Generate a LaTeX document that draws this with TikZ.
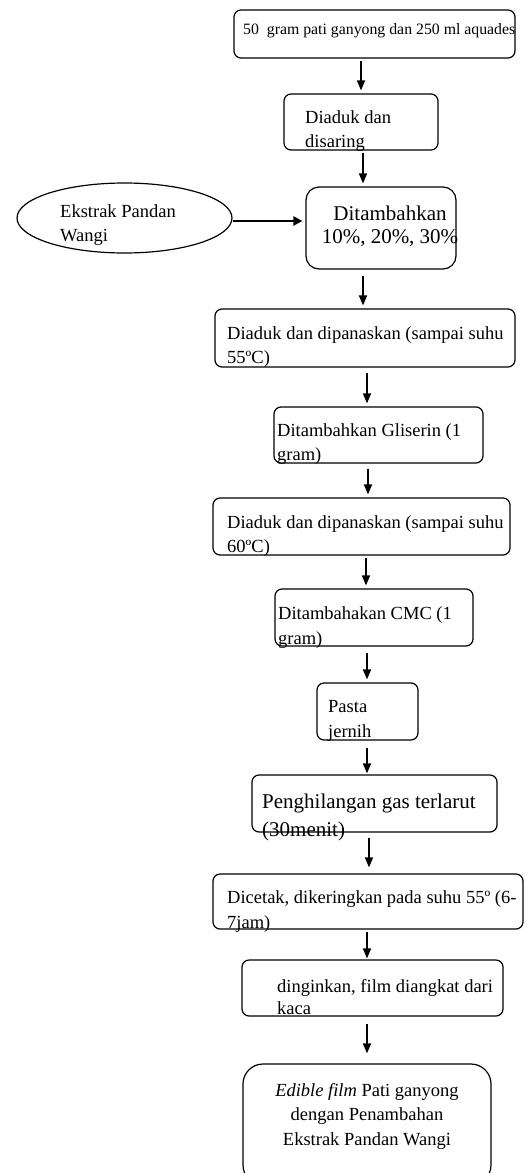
\documentclass[tikz,border=0pt]{standalone}
\usepackage{fontspec}
\setmainfont{Liberation Serif}
\usetikzlibrary{arrows.meta,shapes.geometric}
\begin{document}
\begin{tikzpicture}[x=1pt,y=-1pt,
  box/.style={draw,rectangle,rounded corners=7pt,line width=1.2pt,inner sep=0pt},
  txt/.style={inner sep=0pt,anchor=west,align=left,font=\fontsize{18.5}{24.5}\selectfont},
  arr/.style={line width=1.6pt,-{Triangle[length=10pt,width=8pt]},shorten <=2pt,shorten >=3pt}]
\clip (0,0) rectangle (527,1173);
\fill[white] (0,0) rectangle (527,1173);
% boxes
\node[box,minimum width=281pt,minimum height=48pt] (b1) at (374.5,34) {};
\node[box,minimum width=154pt,minimum height=56pt] (b2) at (361,122) {};
\node[box,rounded corners=13pt,minimum width=150pt,minimum height=82pt] (b3) at (381,228) {};
\node[draw,ellipse,line width=1.2pt,inner sep=0pt,minimum width=215pt,minimum height=70pt] (e) at (124.5,218) {};
\node[box,minimum width=300pt,minimum height=58pt] (b4) at (365,338) {};
\node[box,minimum width=209pt,minimum height=56pt] (b5) at (378.5,435) {};
\node[box,minimum width=297pt,minimum height=57pt] (b6) at (361.5,526.5) {};
\node[box,minimum width=198pt,minimum height=57pt] (b7) at (374,617.5) {};
\node[box,minimum width=101pt,minimum height=57pt] (b8) at (367.5,711.5) {};
\node[box,minimum width=245pt,minimum height=57pt] (b9) at (374.5,803.5) {};
\node[box,minimum width=310pt,minimum height=55pt] (b10) at (368,901.5) {};
\node[box,minimum width=261pt,minimum height=56pt] (b11) at (372.5,988) {};
\node[box,rounded corners=20pt,minimum width=248pt,minimum height=121pt] (b12) at (367,1124.5) {};
% texts
\node[txt,font=\fontsize{15.8}{20}\selectfont] (t1) at (243,31) {50~~gram pati ganyong dan 250 ml aquades};
\node[txt] (t2) at (305,131) {Diaduk dan\\disaring};
\node[txt,anchor=center,align=center,font=\fontsize{21}{23.5}\selectfont] (t3) at (390,226.5) {Ditambahkan\\10\%, 20\%, 30\%};
\node[txt] (te) at (60,225) {Ekstrak Pandan\\Wangi};
\node[txt] (t4) at (227,347) {Diaduk dan dipanaskan (sampai suhu\\55ºC)};
\node[txt] (t5) at (277,444) {Ditambahkan Gliserin (1\\gram)};
\node[txt] (t6) at (227,536) {Diaduk dan dipanaskan (sampai suhu\\60ºC)};
\node[txt] (t7) at (278,627.5) {Ditambahakan CMC (1\\gram)};
\node[txt] (t8) at (328,721) {Pasta\\jernih};
\node[txt,font=\fontsize{21}{28}\selectfont] (t9) at (262,817) {Penghilangan gas terlarut\\(30menit)};
\node[txt] (t10) at (227,911.5) {Dicetak, dikeringkan pada suhu 55º (6-\\7jam)};
\node[txt,font=\fontsize{18.5}{22}\selectfont] (t11) at (277,997.5) {dinginkan, film diangkat dari\\kaca};
\node[txt,anchor=center,align=center] (t12) at (367,1116) {\textit{Edible film} Pati ganyong\\dengan Penambahan\\Ekstrak Pandan Wangi};
% arrow x positions
\coordinate (x1) at (361,0);
\coordinate (x2) at (363,0);
\coordinate (x3) at (363,0);
\coordinate (x4) at (367,0);
\coordinate (x5) at (368,0);
\coordinate (x6) at (366,0);
\coordinate (x7) at (367,0);
\coordinate (x8) at (367,0);
\coordinate (x9) at (369,0);
\coordinate (x10) at (367,0);
\coordinate (x11) at (367,0);
% connectors
\draw[arr] (b1.south -| x1) -- (b2.north -| x1);
\draw[arr] (b2.south -| x2) -- (b3.north -| x2);
\draw[arr,shorten <=6pt] (b3.south -| x3) -- (b4.north -| x3);
\draw[arr,shorten <=5pt] (b4.south -| x4) -- (b5.north -| x4);
\draw[arr,shorten <=5pt] (b5.south -| x5) -- (b6.north -| x5);
\draw[arr] (b6.south -| x6) -- (b7.north -| x6);
\draw[arr,shorten <=6pt] (b7.south -| x7) -- (b8.north -| x7);
\draw[arr,shorten <=7pt,shorten >=1pt] (b8.south -| x8) -- (b9.north -| x8);
\draw[arr,shorten <=5pt,shorten >=6pt] (b9.south -| x9) -- (b10.north -| x9);
\draw[arr,shorten >=1pt] (b10.south -| x10) -- (b11.north -| x10);
\draw[arr,shorten <=7pt,shorten >=10pt] (b11.south -| x11) -- (b12.north -| x11);
\draw[line width=2.6pt,-{Triangle[length=9pt,width=9pt]},shorten >=3pt] (e.east |- 0,221) -- (b3.west |- 0,221);
\end{tikzpicture}
\end{document}
